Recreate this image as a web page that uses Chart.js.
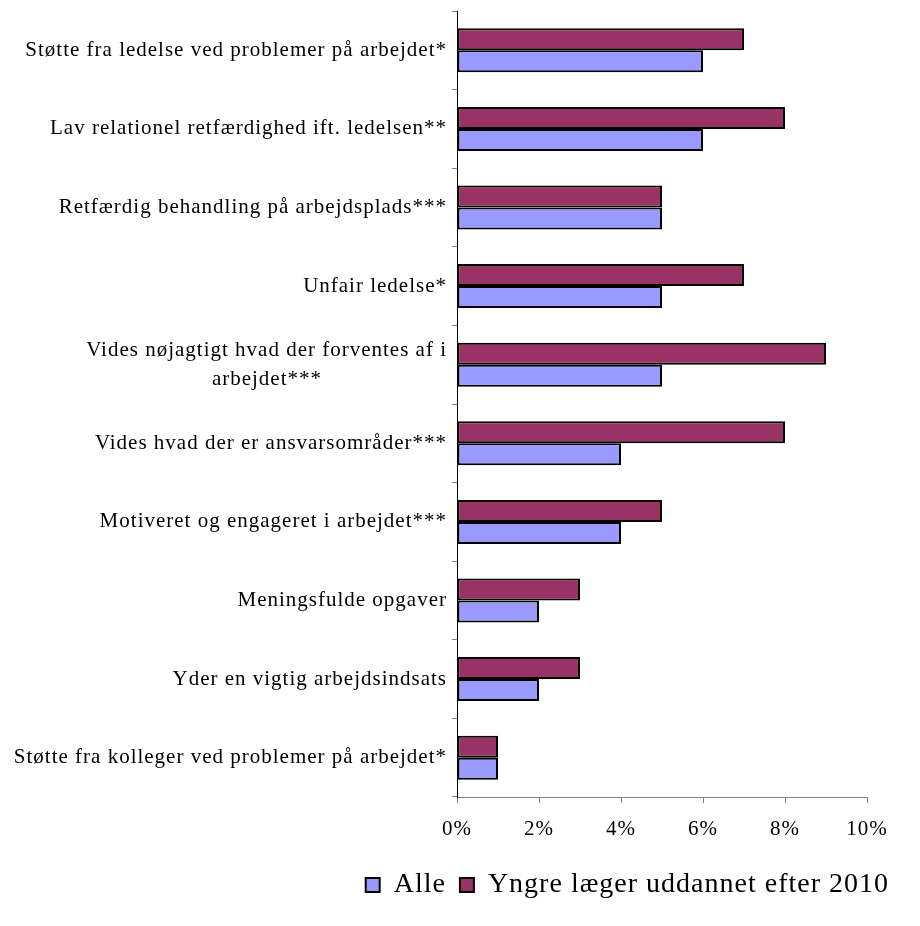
<!DOCTYPE html>
<html>
<head>
<meta charset="utf-8">
<script src="https://cdn.jsdelivr.net/npm/chart.js@4.4.1/dist/chart.umd.min.js"></script>
<style>
    html, body { margin: 0; padding: 0; background: #fff; }
    #wrap { width: 920px; height: 926px; }
</style>
</head>
<body>
<div id="wrap"><canvas id="chart"></canvas></div>
<script>
    var FONT_FAMILY = '"Liberation Serif", "Times New Roman", serif';
    var FONT_SIZE = 21;
    var LEGEND_SIZE = 28;

    var categories = [
        'Støtte fra ledelse ved problemer på arbejdet*',
        'Lav relationel retfærdighed ift. ledelsen**',
        'Retfærdig behandling på arbejdsplads***',
        'Unfair ledelse*',
        ['Vides nøjagtigt hvad der forventes af i', 'arbejdet***'],
        'Vides hvad der er ansvarsområder***',
        'Motiveret og engageret i arbejdet***',
        'Meningsfulde opgaver',
        'Yder en vigtig arbejdsindsats',
        'Støtte fra kolleger ved problemer på arbejdet*'
    ];
    var yngre = [7, 8, 5, 7, 9, 8, 5, 3, 3, 1];
    var alle = [6, 6, 5, 5, 5, 4, 4, 2, 2, 1];
    var xTicks = [0, 2, 4, 6, 8, 10];

    // keep wrapped lines centred under each other while the axis right-aligns them
    function centerLines(lines) {
        if (!Array.isArray(lines)) return lines;
        var c = document.createElement('canvas').getContext('2d');
        c.font = FONT_SIZE + 'px ' + FONT_FAMILY;
        c.letterSpacing = '1px';
        var widths = lines.map(function (l) { return c.measureText(l).width; });
        var max = Math.max.apply(null, widths);
        var sp = c.measureText(' ').width;
        return lines.map(function (l, i) {
            var n = Math.round((max - widths[i]) / 2 / sp);
            return l + ' '.repeat(n);
        });
    }

    var spacing = {
        id: 'spacing',
        beforeUpdate: function (chart) { chart.ctx.letterSpacing = '1px'; },
        beforeDraw: function (chart) { chart.ctx.letterSpacing = '1px'; }
    };

    Chart.defaults.font.family = FONT_FAMILY;
    Chart.defaults.font.size = FONT_SIZE;
    Chart.defaults.color = '#000';

    new Chart(document.getElementById('chart'), {
        type: 'bar',
        data: {
            labels: categories.map(centerLines),
            datasets: [
                {
                    label: 'Yngre læger uddannet efter 2010',
                    data: yngre,
                    backgroundColor: '#993366',
                    borderColor: '#000',
                    borderWidth: 2,
                    borderSkipped: false
                },
                {
                    label: 'Alle',
                    data: alle,
                    backgroundColor: '#9999FF',
                    borderColor: '#000',
                    borderWidth: 2,
                    borderSkipped: false
                }
            ]
        },
        options: {
            indexAxis: 'y',
            responsive: true,
            maintainAspectRatio: false,
            animation: false,
            categoryPercentage: 0.56,
            barPercentage: 1.0,
            layout: { padding: { top: 11, right: 17, left: 0, bottom: 17 } },
            plugins: {
                tooltip: { enabled: false },
                legend: {
                    position: 'bottom',
                    align: 'end',
                    reverse: true,
                    labels: {
                        boxWidth: 14,
                        boxHeight: 14,
                        padding: 14,
                        color: '#000',
                        font: { size: LEGEND_SIZE }
                    }
                }
            },
            scales: {
                x: {
                    min: 0,
                    max: 10,
                    afterBuildTicks: function (scale) {
                        scale.ticks = xTicks.map(function (v) { return { value: v }; });
                    },
                    afterFit: function (scale) {
                        scale.height = 60;
                        scale.paddingRight = 53;
                    },
                    ticks: {
                        padding: 14,
                        maxRotation: 0,
                        callback: function (v) { return v + '%'; }
                    },
                    grid: {
                        drawOnChartArea: false,
                        drawTicks: true,
                        tickLength: 6,
                        color: '#808080'
                    },
                    border: { color: '#808080', width: 1 }
                },
                y: {
                    afterFit: function (scale) {
                        scale.width = 457;
                        scale.paddingTop = 0;
                        scale.paddingBottom = 0;
                    },
                    ticks: { padding: 5, autoSkip: false, font: { lineHeight: 1.4 } },
                    grid: {
                        drawOnChartArea: false,
                        drawTicks: true,
                        tickLength: 5,
                        color: '#808080'
                    },
                    border: { color: '#000', width: 1 }
                }
            }
        },
        plugins: [spacing]
    });
</script>
</body>
</html>
